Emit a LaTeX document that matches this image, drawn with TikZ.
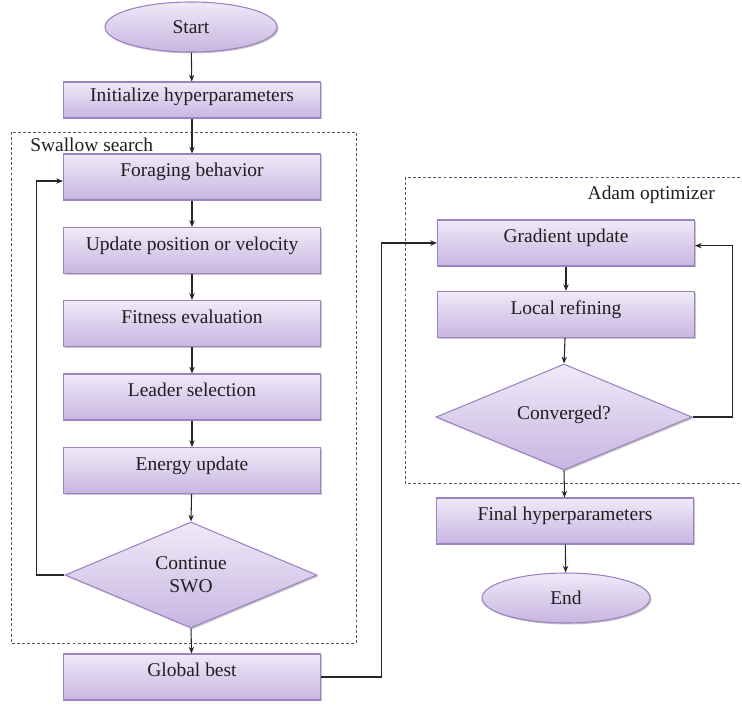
\documentclass[tikz,border=0pt]{standalone}
\usepackage{fontspec}
\setmainfont{Liberation Serif}
\newfontfamily\diagfont{Liberation Serif}
\usetikzlibrary{shapes.geometric,arrows.meta,shadows}
\definecolor{boxtop}{HTML}{EFEAF7}
\definecolor{boxbot}{HTML}{C8B5E1}
\definecolor{boxline}{HTML}{9C82C3}
\definecolor{dashcol}{HTML}{4A5A72}
\definecolor{linecol}{HTML}{262626}
\tikzset{
  shaded/.style={top color=boxtop, bottom color=boxbot, draw=boxline, line width=0.8pt,
    drop shadow={shadow xshift=1.1pt, shadow yshift=-1.1pt, fill=black, opacity=0.22},
    font=\diagfont\fontsize{14.6}{17.5}\selectfont, text=black!88},
  procbox/.style={shaded, rectangle, minimum width=192.75pt, minimum height=34.5pt,
    inner sep=0pt, text height=10pt, text depth=10.4pt},
  initbox/.style={procbox, minimum height=27pt, text height=10pt, text depth=8pt},
  termnode/.style={shaded, ellipse, minimum width=129pt, minimum height=37.5pt, inner sep=0pt},
  decnode/.style={shaded, diamond, aspect=2.4, minimum width=189pt, minimum height=79.5pt,
    inner sep=0pt, align=center},
  conn/.style={draw=linecol, line width=0.8pt, -{Stealth[length=5pt,width=4pt]}},
  group/.style={draw=dashcol, line width=0.75pt, dash pattern=on 2.2pt off 1.6pt},
  grouplabel/.style={font=\diagfont\fontsize{14.6}{17.5}\selectfont, text=black!88, inner sep=0pt}
}
\begin{document}
\begin{tikzpicture}[x=0.75pt, y=-0.75pt]
\useasboundingbox (0,0) rectangle (742,704);
% groups
\draw[group] (11,132) rectangle (356,643);
\draw[group] (405,177) rectangle (748,483);
\node[grouplabel, anchor=west] (lblswallow) at (30,145) {Swallow search};
\node[grouplabel, anchor=east] (lbladam) at (715,195) {Adam optimizer};
% left column
\node[termnode] (start) at (191,27) {Start};
\node[initbox] (init) at (192,100) {Initialize hyperparameters};
\node[procbox] (forage) at (192,177) {Foraging behavior};
\node[procbox] (update) at (192,250.5) {Update position or velocity};
\node[procbox] (fitness) at (192,323.5) {Fitness evaluation};
\node[procbox] (leader) at (192,397) {Leader selection};
\node[procbox] (energy) at (192,470.5) {Energy update};
\node[decnode] (cont) at (191,575) {Continue\\SWO};
\node[procbox] (global) at (192,677) {Global best};
% right column
\node[procbox] (grad) at (566,243) {Gradient update};
\node[procbox] (local) at (566,314.5) {Local refining};
\node[decnode, minimum width=192pt, text height=10pt, text depth=6pt] (conv) at (564,417) {Converged?};
\node[procbox] (final) at (565,521) {Final hyperparameters};
\node[termnode, minimum width=126pt] (end) at (566,598) {End};
% connectors
\draw[conn] (start) -- (init);
\draw[conn] (init) -- (forage);
\draw[conn] (forage) -- (update);
\draw[conn] (update) -- (fitness);
\draw[conn] (fitness) -- (leader);
\draw[conn] (leader) -- (energy);
\draw[conn] (energy) -- (cont.north);
\draw[conn] (cont.south) -- (global);
\draw[conn] (cont.west) -- ++(-28,0) |- ([yshift=-3pt]forage.west);
\draw[conn] (global.east) -- ++(60,0) |- (grad.west);
\draw[conn] (grad) -- (local);
\draw[conn] (local) -- (conv.north);
\draw[conn] (conv.east) -- ++(40,0) |- ([yshift=-2pt]grad.east);
\draw[conn] (conv.south) -- (final);
\draw[conn] (final) -- (end);
\end{tikzpicture}
\end{document}
